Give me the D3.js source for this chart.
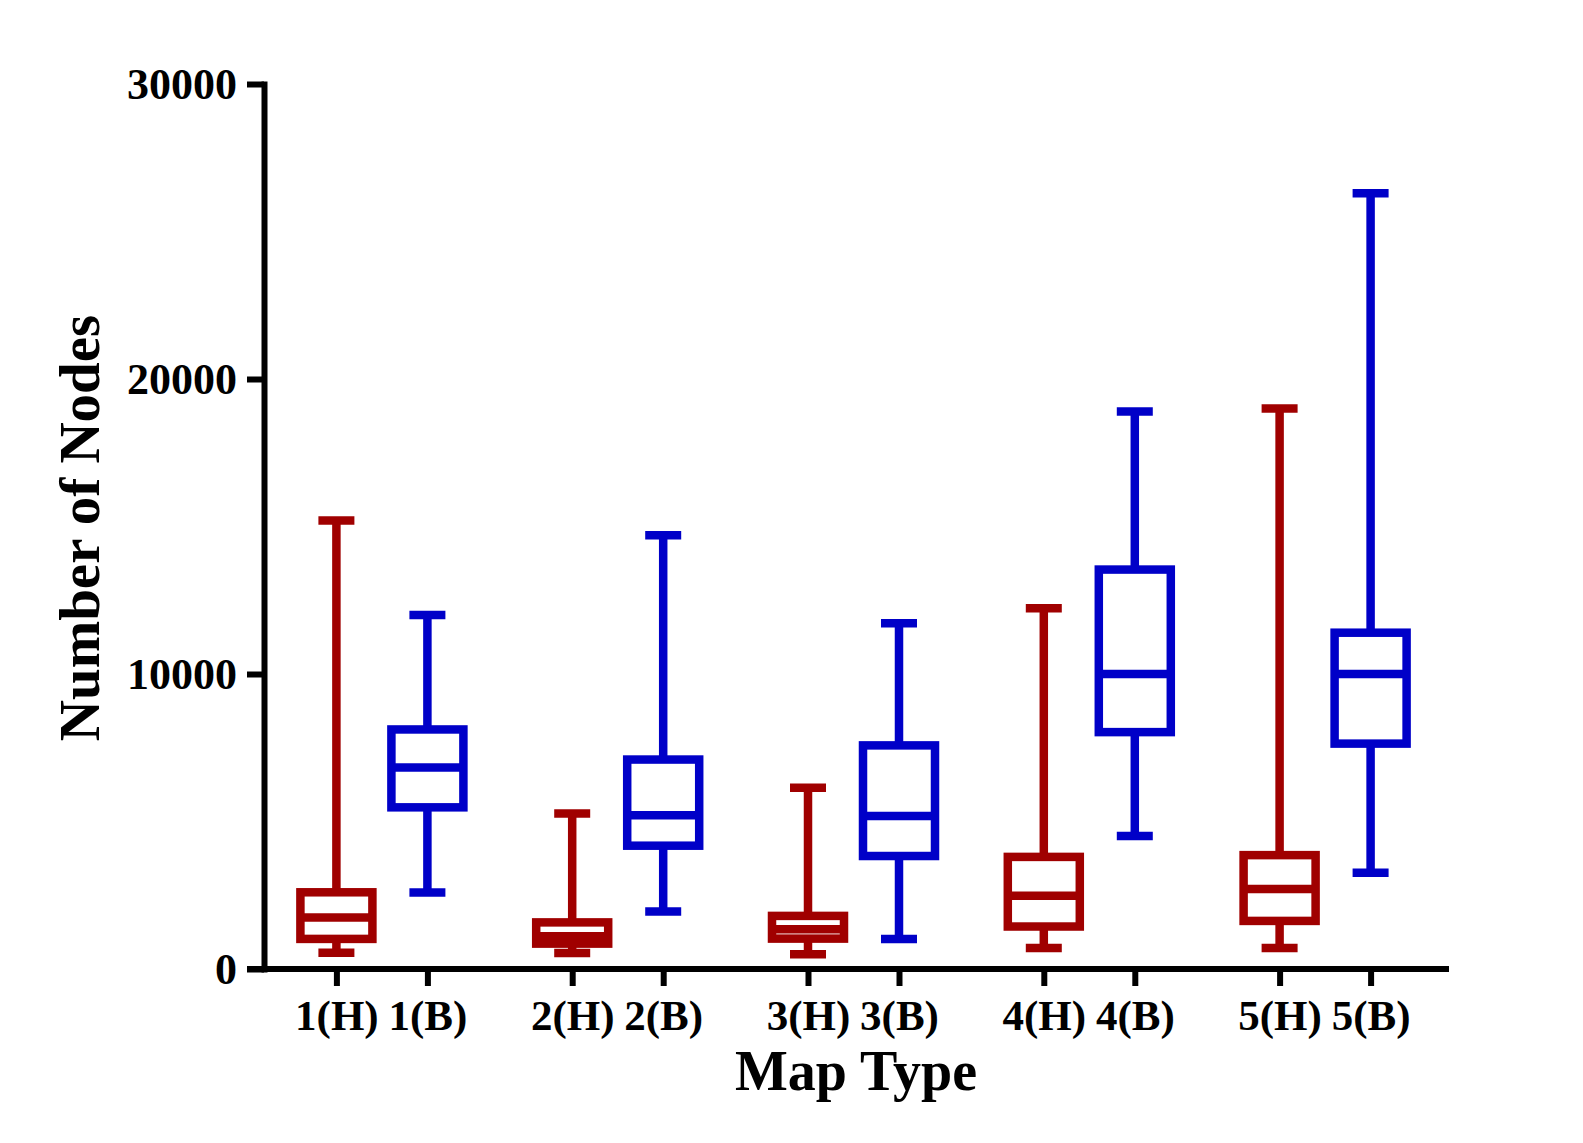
<!DOCTYPE html>
<meta charset="utf-8">
<style>
  body { margin: 0; background: #fff; }
  text { font-family: "Liberation Serif", "Times New Roman", serif; font-weight: bold; }
</style>
<script src="https://d3js.org/d3.v7.min.js"></script>
<div id="chart"></div>
<script>

// groups on the x axis and the two map kinds inside each group
var groups = ["1", "2", "3", "4", "5"];
var kinds = ["H", "B"];

// box statistics for the H series (dark red)
var hMin = [550, 540, 500, 710, 710];
var hQ1  = [1020, 860, 1030, 1440, 1630];
var hMed = [1750, 1110, 1350, 2480, 2710];
var hQ3  = [2600, 1580, 1800, 3800, 3860];
var hMax = [15200, 5270, 6140, 12230, 19000];

// box statistics for the B series (blue)
var bMin = [2590, 1950, 1020, 4510, 3260];
var bQ1  = [5480, 4180, 3830, 8030, 7640];
var bMed = [6830, 5210, 5190, 10000, 10000];
var bQ3  = [8120, 7100, 7580, 13540, 11400];
var bMax = [12000, 14700, 11720, 18900, 26300];

var yTicks = [0, 10000, 20000, 30000];

var colors = { H: "#a00000", B: "#0000c8" };

// build one record per box
var boxes = [];
groups.forEach(function(g, i) {
  boxes.push({ group: g, kind: "H", min: hMin[i], q1: hQ1[i], med: hMed[i], q3: hQ3[i], max: hMax[i] });
  boxes.push({ group: g, kind: "B", min: bMin[i], q1: bQ1[i], med: bMed[i], q3: bQ3[i], max: bMax[i] });
});

var width = 1583, height = 1143;
var lw = 8.5;          // stroke width of the boxes
var boxW = 72, capW = 36;

var svg = d3.select("#chart")
  .append("svg")
    .attr("width", width)
    .attr("height", height);

// scales
var y = d3.scaleLinear()
  .domain([0, 30000])
  .range([969, 84]);

var xGroup = d3.scaleBand()
  .domain(groups)
  .range([264, 1443]);

var xKind = d3.scalePoint()
  .domain(kinds)
  .range([xGroup.bandwidth() / 2 - 45.5, xGroup.bandwidth() / 2 + 45.5]);

function xPos(d) { return xGroup(d.group) + xKind(d.kind); }

// ordinal scale for the x tick marks and their labels
var tickLabels = boxes.map(function(d) { return d.group + "(" + d.kind + ")"; });
var xTicks = d3.scaleOrdinal()
  .domain(tickLabels)
  .range(boxes.map(xPos));

// Y axis
var yAxis = svg.append("g")
  .attr("transform", "translate(264,0)")
  .call(d3.axisLeft(y).tickValues(yTicks).tickSize(17).tickSizeOuter(0).tickPadding(10)
        .tickFormat(d3.format("d")));
yAxis.select(".domain")
  .attr("stroke", "#000").attr("stroke-width", 6).attr("stroke-linecap", "square");
yAxis.selectAll(".tick line").attr("stroke", "#000").attr("stroke-width", 6);
yAxis.selectAll(".tick text")
  .attr("fill", "#000")
  .style("font-size", "44px");

// X axis
var xAxis = svg.append("g")
  .attr("transform", "translate(0," + y(0) + ")")
  .call(d3.axisBottom(xTicks).tickSize(17).tickSizeOuter(0));
xAxis.select(".domain").remove();
xAxis.append("line")
  .attr("x1", 264 - 17).attr("x2", xGroup.range()[1] + 6)
  .attr("y1", 0).attr("y2", 0)
  .attr("stroke", "#000").attr("stroke-width", 6);
xAxis.selectAll(".tick line").attr("stroke", "#000").attr("stroke-width", 6);
xAxis.selectAll(".tick text")
  .attr("fill", "#000")
  .attr("y", 61).attr("dy", 0)
  .style("font-size", "43px");

// boxes
var g = svg.selectAll(".box")
  .data(boxes)
  .enter()
  .append("g")
    .attr("class", "box")
    .attr("stroke", function(d) { return colors[d.kind]; })
    .attr("stroke-width", lw)
    .attr("fill", "none");

// whiskers
g.append("line")
  .attr("x1", xPos).attr("x2", xPos)
  .attr("y1", function(d) { return y(d.max); })
  .attr("y2", function(d) { return y(d.q3); });
g.append("line")
  .attr("x1", xPos).attr("x2", xPos)
  .attr("y1", function(d) { return y(d.q1); })
  .attr("y2", function(d) { return y(d.min); });

// caps
["max", "min"].forEach(function(k) {
  g.append("line")
    .attr("x1", function(d) { return xPos(d) - capW / 2; })
    .attr("x2", function(d) { return xPos(d) + capW / 2; })
    .attr("y1", function(d) { return y(d[k]); })
    .attr("y2", function(d) { return y(d[k]); });
});

// box
g.append("rect")
  .attr("x", function(d) { return xPos(d) - boxW / 2; })
  .attr("width", boxW)
  .attr("y", function(d) { return y(d.q3); })
  .attr("height", function(d) { return y(d.q1) - y(d.q3); })
  .attr("fill", "#fff");

// median
g.append("line")
  .attr("x1", function(d) { return xPos(d) - boxW / 2; })
  .attr("x2", function(d) { return xPos(d) + boxW / 2; })
  .attr("y1", function(d) { return y(d.med); })
  .attr("y2", function(d) { return y(d.med); });

// axis titles
svg.append("text")
  .attr("x", 856)
  .attr("y", 1090)
  .attr("text-anchor", "middle")
  .style("font-size", "56px")
  .text("Map Type");

svg.append("text")
  .attr("transform", "translate(99,528) rotate(-90)")
  .attr("text-anchor", "middle")
  .style("font-size", "57px")
  .text("Number of Nodes");

</script>
